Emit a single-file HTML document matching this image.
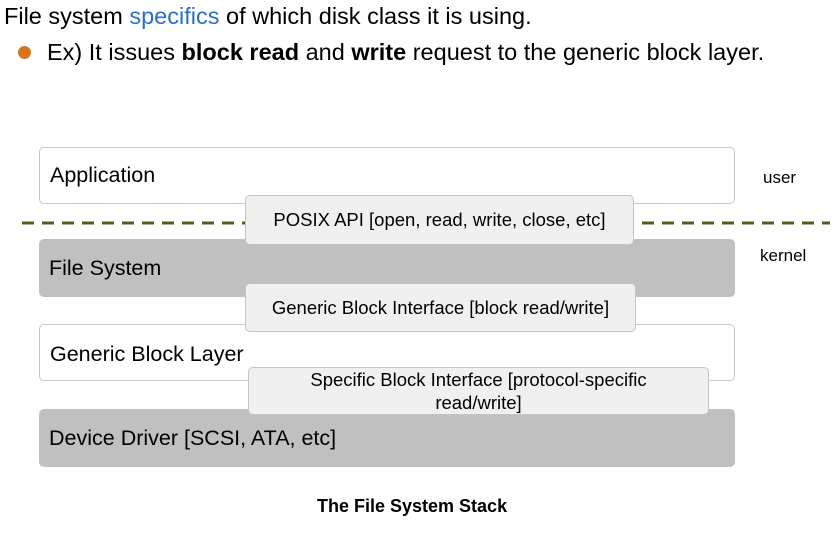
<!DOCTYPE html>
<html><head><style>
body{margin:0;width:840px;height:547px;background:#fff;position:relative;overflow:hidden;font-family:"Liberation Sans",sans-serif;}
.t{position:absolute;white-space:nowrap;color:#000;}
.b{position:absolute;box-sizing:border-box;border-radius:5px;}
.w{background:#fff;border:1px solid #c8c8c8;}
.g{background:#c0c0c0;}
.i{background:#f0f0f0;border:1px solid #c4c4c4;text-align:center;font-size:18.5px;}
.lab{font-size:21.5px;position:absolute;left:10px;}
</style></head><body>
<div class="t" style="left:4px;top:3px;font-size:23.5px;">File system <span style="color:#2a6fc9">specifics</span> of which disk class it is using.</div>
<div style="position:absolute;left:18px;top:46px;width:13px;height:13px;border-radius:50%;background:#d8731f"></div>
<div class="t" style="left:47px;top:39px;font-size:23.5px;">Ex) It issues <b>block read</b> and <b>write</b> request to the generic block layer.</div>

<div class="b w" style="left:39px;top:147px;width:696px;height:57px;"><span class="lab" style="top:15px">Application</span></div>
<svg style="position:absolute;left:0;top:0" width="840" height="547"><line x1="22" y1="223" x2="830" y2="223" stroke="#5a5a1e" stroke-width="3" stroke-dasharray="12 8"/></svg>
<div class="t" style="left:763px;top:168px;font-size:17px;">user</div>
<div class="t" style="left:760px;top:246px;font-size:17px;">kernel</div>

<div class="b g" style="left:39px;top:239px;width:696px;height:58px;"><span class="lab" style="top:17px">File System</span></div>
<div class="b w" style="left:39px;top:324px;width:696px;height:57px;"><span class="lab" style="top:17px">Generic Block Layer</span></div>
<div class="b g" style="left:39px;top:409px;width:696px;height:58px;"><span class="lab" style="top:17px">Device Driver [SCSI, ATA, etc]</span></div>

<div class="b i" style="left:245px;top:195px;width:389px;height:50px;line-height:48px;">POSIX API [open, read, write, close, etc]</div>
<div class="b i" style="left:245px;top:283px;width:391px;height:49px;line-height:47px;">Generic Block Interface [block read/write]</div>
<div class="b i" style="left:248px;top:367px;width:461px;height:48px;line-height:23px;">Specific Block Interface [protocol-specific<br>read/write]</div>

<div class="t" style="left:317px;top:496px;font-size:18px;font-weight:bold;">The File System Stack</div>
</body></html>
